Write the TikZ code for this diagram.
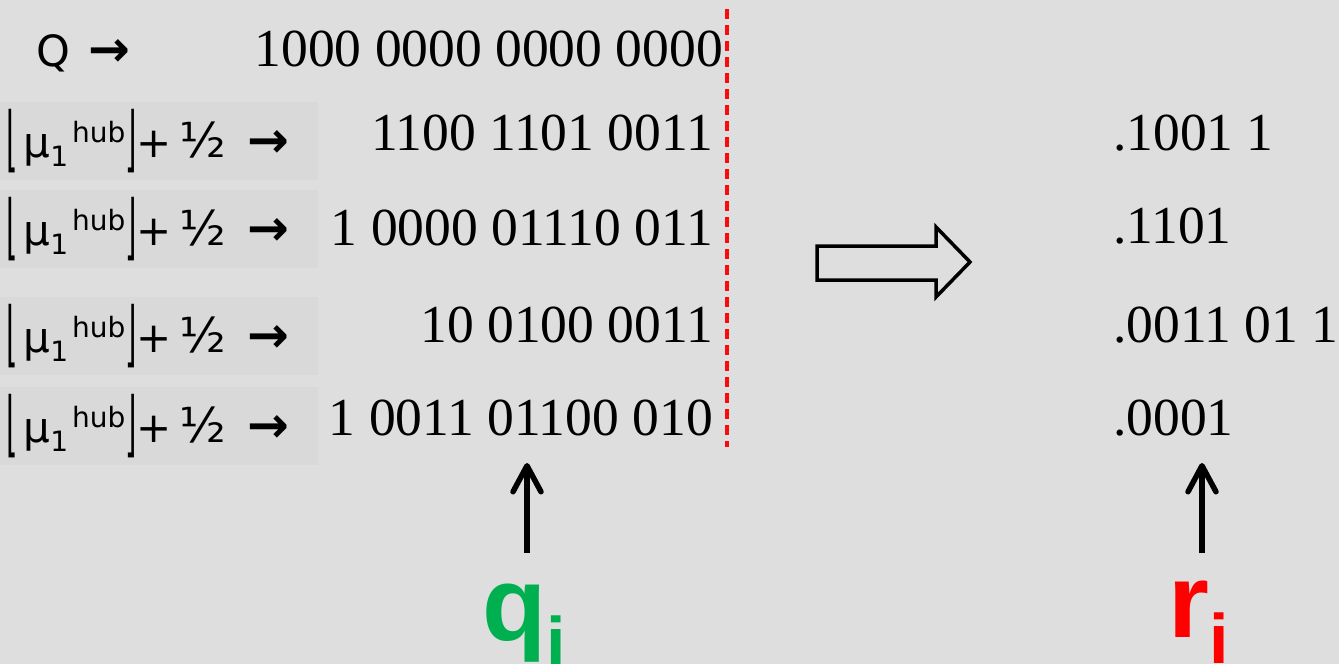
\documentclass[tikz,border=0pt]{standalone}
\usepackage{fontspec}
\usepackage{graphicx}
\setmainfont{Liberation Serif}
\newfontfamily\labfont{DejaVu Sans}
\newfontfamily\labboldfont{DejaVu Sans Bold}
\newfontfamily\boldsans{Liberation Sans}
\usetikzlibrary{arrows.meta}
\definecolor{bgcol}{RGB}{222,222,222}
\definecolor{boxcol}{RGB}{217,217,217}
\definecolor{qgreen}{RGB}{0,176,80}
\definecolor{dashred}{RGB}{250,10,10}
\newcommand{\bigarrow}{{\labboldfont\fontsize{50}{50}\selectfont →}}
\newcommand{\hublab}{{\labfont\fontsize{42}{42}\selectfont
  \raisebox{-6pt}{\scalebox{0.7}[1.7]{⌊}}\hspace{6pt}μ\raisebox{-9pt}{\fontsize{28}{28}\selectfont 1}\hspace{4pt}\raisebox{15pt}{\fontsize{28}{28}\selectfont hub}\raisebox{-6pt}{\scalebox{0.7}[1.7]{⌋}}+\,{\fontsize{48}{48}\selectfont ½}\hspace{22pt}\bigarrow}}
\tikzset{
  labbox/.style={fill=boxcol, anchor=west, text width=306, inner xsep=6, inner ysep=0, minimum height=78, align=left},
  numtxt/.style={font=\fontsize{53.5}{53.5}\selectfont, inner sep=0},
  bigsub/.style={font=\boldsans\bfseries\fontsize{105}{105}\selectfont, inner sep=0, anchor=base west},
  uparrow/.style={line width=5.5, -{Straight Barb[length=26, width=28, line cap=round, line join=round]}},
}
\begin{document}
\begin{tikzpicture}[x=1pt,y=-1pt]
\fill[bgcol] (0,0) rectangle (1339,664);
\useasboundingbox (0,0) rectangle (1339,664);

% left labels
\node[inner sep=0, anchor=west] (l1) at (36,53) {\labfont\fontsize{43}{43}\selectfont Q\hspace{18pt}\bigarrow};
\node[labbox] (l2) at (0,141) {\hublab};
\node[labbox] (l3) at (0,229) {\hublab};
\node[labbox] (l4) at (0,336) {\hublab};
\node[labbox] (l5) at (0,426) {\hublab};

% numbers
\node[numtxt, anchor=east] (n1) at (723,49) {1000 0000 0000 0000};
\node[numtxt, anchor=east] (n2) at (713,133) {1100 1101 0011};
\node[numtxt, anchor=east] (n3) at (713,228) {1 0000 01110 011};
\node[numtxt, anchor=east] (n4) at (713,325) {10 0100 0011};
\node[numtxt, anchor=east] (n5) at (713,418) {1 0011 01100 010};

% right column
\node[numtxt, anchor=west] (r1) at (1113,133) {.1001 1};
\node[numtxt, anchor=west] (r2) at (1113,226) {.1101};
\node[numtxt, anchor=west] (r3) at (1113,325) {.0011 01 1};
\node[numtxt, anchor=west] (r4) at (1113,418) {.0001};

% red dashed line
\coordinate (dtop) at (727,9);
\coordinate (dbot) at (727,447);
\draw[dashred, line width=3.5, dash pattern=on 10 off 6] (dtop) -- (dbot);

% hollow arrow
\draw[line width=3.5, line join=miter]
  (817,246) -- (936,246) -- (936,227) -- (970,262) -- (936,297) -- (936,280) -- (817,280) -- cycle;

% up arrows
\coordinate (qa) at (527,553);
\coordinate (qb) at (527,463);
\coordinate (ra) at (1202,553);
\coordinate (rb) at (1202,463);
\draw[uparrow] (qa) -- (qb);
\draw[uparrow] (ra) -- (rb);

% q_i and r_i
\node[bigsub, text=qgreen] (q) at (482,640) {q\raisebox{-26pt}{\fontsize{70}{70}\selectfont i}};
\node[bigsub, text=red] (r) at (1168,637) {r\raisebox{-26pt}{\fontsize{70}{70}\selectfont i}};
\end{tikzpicture}
\end{document}
